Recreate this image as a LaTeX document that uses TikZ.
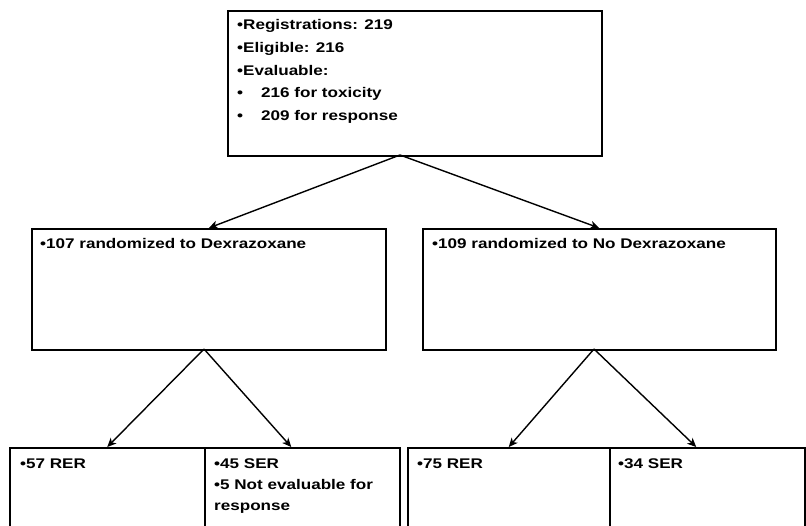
\documentclass[tikz,border=0pt]{standalone}
\usepackage{fontspec}
\setmainfont{Liberation Sans}[FakeStretch=1.22]
\usetikzlibrary{positioning,arrows.meta}
\tikzset{
  box/.style={draw,line width=1.5pt,inner sep=0pt,anchor=north west},
  boxText/.style={inner sep=0pt,align=left,font=\fontsize{14}{22.7}\selectfont\bfseries},
  flow/.style={line width=1.4pt,-{Stealth[length=9pt,width=8pt,inset=2.5pt]}},
}

\begin{document}
\begin{tikzpicture}[x=1pt,y=-1pt]
\clip (0,0) rectangle (806,525);
\fill[white] (0,0) rectangle (806,525);
% boxes
\node[box,minimum width=374pt,minimum height=145pt] (topBox) at (227,10) {};
\node[box,minimum width=354pt,minimum height=121pt] (dexBox) at (31,228) {};
\node[box,minimum width=353pt,minimum height=121pt] (noBox) at (422,228) {};
\node[box,minimum width=195pt,minimum height=100pt] (dexRER) at (9,447) {};
\node[box,minimum width=195pt,minimum height=100pt] (dexSER) at (204,447) {};
\node[box,minimum width=202pt,minimum height=100pt] (noRER) at (407,447) {};
\node[box,minimum width=195pt,minimum height=100pt] (noSER) at (609,447) {};
% texts
\node[boxText,below right=9.5pt and 10pt of topBox.north west] (topTxt)
  {•Registrations: 219\\
   •Eligible: 216\\
   •Evaluable:\\
   \makebox[24pt][l]{•}216 for toxicity\\
   \makebox[24pt][l]{•}209 for response};
\node[boxText,below right=10pt and 9pt of dexBox.north west] (dexTxt) {•107 randomized to Dexrazoxane};
\node[boxText,below right=10pt and 10pt of noBox.north west] (noTxt) {•109 randomized to No Dexrazoxane};
\node[boxText,below right=11.5pt and 11pt of dexRER.north west] (dexRERTxt) {•57 RER};
\node[boxText,below right=11.5pt and 10pt of dexSER.north west,font=\fontsize{14}{21}\selectfont\bfseries] (dexSERTxt)
  {•45 SER\\
   •5 Not evaluable for\\
   response};
\node[boxText,below right=11.5pt and 10pt of noRER.north west] (noRERTxt) {•75 RER};
\node[boxText,below right=11.5pt and 9pt of noSER.north west] (noSERTxt) {•34 SER};
% split points
\coordinate (topSplit) at (400,155);
\coordinate (dexSplit) at (204,349);
\coordinate (noSplit) at (594,349);
% arrows
\draw[flow] (topSplit) -- (dexBox.north);
\draw[flow] (topSplit) -- (noBox.north);
\draw[flow] (dexSplit) -- (dexRER.north);
\draw[flow] (dexSplit) -- ([xshift=-11pt]dexSER.north);
\draw[flow] (noSplit) -- (noRER.north);
\draw[flow] (noSplit) -- ([xshift=-11pt]noSER.north);
\end{tikzpicture}
\end{document}
